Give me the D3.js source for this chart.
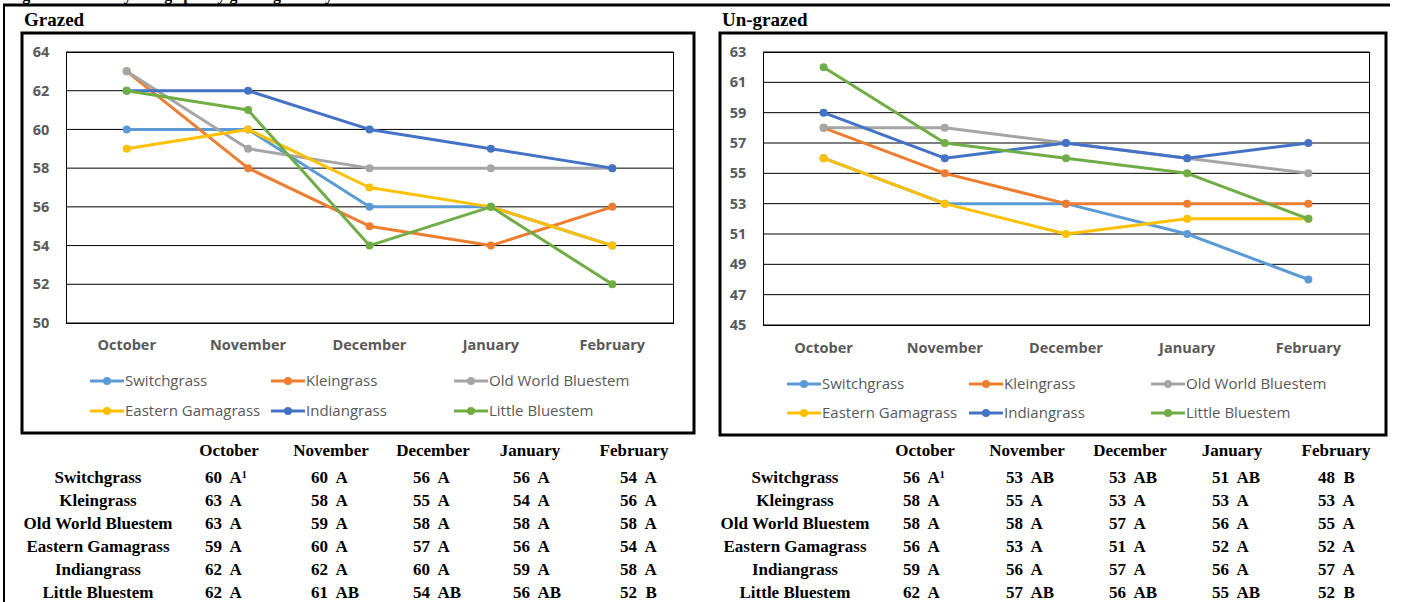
<!DOCTYPE html>
<html>
<head>
<meta charset="utf-8">
<script src="https://cdn.jsdelivr.net/npm/d3@7"></script>
<style>
  body { margin: 0; background: #fff; }
  svg { display: block; }
  .tick-lab { font-family: "Open Sans", sans-serif; font-weight: bold; font-size: 14.5px; fill: #595959; }
  .leg-lab { font-family: "Open Sans", sans-serif; font-size: 15px; fill: #595959; }
  .tbl { font-family: "Liberation Serif", serif; font-weight: bold; font-size: 17px; fill: #000; }
</style>
</head>
<body>
<script>
//months and grass series
var months = ["October", "November", "December", "January", "February"];
var grasses = ["Switchgrass", "Kleingrass", "Old World Bluestem", "Eastern Gamagrass", "Indiangrass", "Little Bluestem"];
var colors = ["#5B9BD5", "#ED7D31", "#A5A5A5", "#FFC000", "#4472C4", "#70AD47"];

//grazed values (rows follow grasses)
var grazed = [
    [60, 60, 56, 56, 54],
    [63, 58, 55, 54, 56],
    [63, 59, 58, 58, 58],
    [59, 60, 57, 56, 54],
    [62, 62, 60, 59, 58],
    [62, 61, 54, 56, 52]
];
var grazedLetters = [
    ["A", "A", "A", "A", "A"],
    ["A", "A", "A", "A", "A"],
    ["A", "A", "A", "A", "A"],
    ["A", "A", "A", "A", "A"],
    ["A", "A", "A", "A", "A"],
    ["A", "AB", "AB", "AB", "B"]
];
var grazedTicks = [50, 52, 54, 56, 58, 60, 62, 64];

//un-grazed values
var ungrazed = [
    [56, 53, 53, 51, 48],
    [58, 55, 53, 53, 53],
    [58, 58, 57, 56, 55],
    [56, 53, 51, 52, 52],
    [59, 56, 57, 56, 57],
    [62, 57, 56, 55, 52]
];
var ungrazedLetters = [
    ["A", "AB", "AB", "AB", "B"],
    ["A", "A", "A", "A", "A"],
    ["A", "A", "A", "A", "A"],
    ["A", "A", "A", "A", "A"],
    ["A", "A", "A", "A", "A"],
    ["A", "AB", "AB", "AB", "B"]
];
var ungrazedTicks = [45, 47, 49, 51, 53, 55, 57, 59, 61, 63];

var width = 1403, height = 602;

var svg = d3.select("body").append("svg")
    .attr("width", width)
    .attr("height", height);

//figure caption, cut off by the top edge as in the source
svg.append("text")
    .attr("x", 8).attr("y", 0)
    .attr("font-family", "Liberation Serif, serif")
    .attr("font-weight", "bold")
    .attr("font-size", 16)
    .text("Figure 3. Monthly forage pH by grazing history");

//outer page border
svg.append("line").attr("x1", 3).attr("x2", 1390).attr("y1", 5).attr("y2", 5)
    .attr("stroke", "#000").attr("stroke-width", 3);
svg.append("line").attr("x1", 4).attr("x2", 4).attr("y1", 5).attr("y2", height)
    .attr("stroke", "#000").attr("stroke-width", 2);

drawPanel({
    title: "Grazed", data: grazed, letters: grazedLetters, ticks: grazedTicks,
    frame: [22, 33, 694, 433], plot: [66, 52, 673, 323],
    xLabY: 345, legY: [381, 411], legX: [90, 271, 454],
    tbl: { labX: 98, head: [229, 331, 433, 530, 634], val: [205, 311, 413, 513, 620] }
});
drawPanel({
    title: "Un-grazed", data: ungrazed, letters: ungrazedLetters, ticks: ungrazedTicks,
    frame: [720, 33, 1386, 435], plot: [763, 52, 1369, 325],
    xLabY: 348, legY: [384, 413], legX: [787, 969, 1151],
    tbl: { labX: 795, head: [925, 1027, 1130, 1232, 1336], val: [903, 1006, 1109, 1212, 1318] }
});

function drawPanel(o){
    var g = svg.append("g");

    //panel title
    g.append("text")
        .attr("x", o.frame[0] + 2).attr("y", 26)
        .attr("font-family", "Liberation Serif, serif")
        .attr("font-weight", "bold")
        .attr("font-size", 19)
        .text(o.title);

    //chart frame
    g.append("rect")
        .attr("x", o.frame[0]).attr("y", o.frame[1])
        .attr("width", o.frame[2] - o.frame[0]).attr("height", o.frame[3] - o.frame[1])
        .attr("fill", "#fff").attr("stroke", "#000").attr("stroke-width", 3);

    var x = d3.scalePoint()
        .domain(months)
        .range([o.plot[0], o.plot[2]])
        .padding(0.5);
    var y = d3.scaleLinear()
        .domain([o.ticks[0], o.ticks[o.ticks.length - 1]])
        .range([o.plot[3], o.plot[1]]);

    //gridlines
    g.selectAll(".grid")
        .data(o.ticks)
        .enter().append("line")
        .attr("x1", o.plot[0]).attr("x2", o.plot[2])
        .attr("y1", function(d){ return y(d); })
        .attr("y2", function(d){ return y(d); })
        .attr("stroke", "#000").attr("stroke-width", 1);

    //plot area box sides
    g.append("rect")
        .attr("x", o.plot[0] + 0.5).attr("y", o.plot[1] + 0.5)
        .attr("width", o.plot[2] - o.plot[0]).attr("height", o.plot[3] - o.plot[1])
        .attr("fill", "none").attr("stroke", "#000").attr("stroke-width", 1);

    //y tick labels
    g.selectAll(".ylab")
        .data(o.ticks)
        .enter().append("text")
        .attr("class", "tick-lab")
        .attr("x", o.plot[0] - 25)
        .attr("y", function(d){ return y(d); })
        .attr("dy", "0.35em")
        .attr("text-anchor", "middle")
        .text(function(d){ return d; });

    //x labels
    g.selectAll(".xlab")
        .data(months)
        .enter().append("text")
        .attr("class", "tick-lab")
        .attr("x", function(d){ return x(d); })
        .attr("y", o.xLabY)
        .attr("dy", "0.35em")
        .attr("text-anchor", "middle")
        .text(function(d){ return d; });

    //series lines and markers
    var line = d3.line()
        .x(function(d, i){ return x(months[i]); })
        .y(function(d){ return y(d); });

    o.data.forEach(function(vals, s){
        g.append("path")
            .datum(vals)
            .attr("d", line)
            .attr("fill", "none")
            .attr("stroke", colors[s])
            .attr("stroke-width", 3)
            .attr("stroke-linejoin", "round")
            .attr("stroke-linecap", "round");
        g.selectAll(".pt" + s)
            .data(vals)
            .enter().append("circle")
            .attr("cx", function(d, i){ return x(months[i]); })
            .attr("cy", function(d){ return y(d); })
            .attr("r", 4)
            .attr("fill", colors[s]);
    });

    //legend, three columns by two rows
    grasses.forEach(function(name, s){
        var lx = o.legX[s % 3], ly = o.legY[Math.floor(s / 3)];
        g.append("line")
            .attr("x1", lx).attr("x2", lx + 34)
            .attr("y1", ly).attr("y2", ly)
            .attr("stroke", colors[s]).attr("stroke-width", 3);
        g.append("circle")
            .attr("cx", lx + 17).attr("cy", ly).attr("r", 4)
            .attr("fill", colors[s]);
        g.append("text")
            .attr("class", "leg-lab")
            .attr("x", lx + 35).attr("y", ly)
            .attr("dy", "0.35em")
            .text(name);
    });

    //table below the chart
    var rowY = d3.scaleLinear().domain([0, 1]).range([477, 500]);
    g.selectAll(".thead")
        .data(months)
        .enter().append("text")
        .attr("class", "tbl")
        .attr("x", function(d, i){ return o.tbl.head[i]; })
        .attr("y", 450)
        .attr("dy", "0.35em")
        .attr("text-anchor", "middle")
        .text(function(d){ return d; });

    grasses.forEach(function(name, r){
        g.append("text")
            .attr("class", "tbl")
            .attr("x", o.tbl.labX).attr("y", rowY(r))
            .attr("dy", "0.35em")
            .attr("text-anchor", "middle")
            .text(name);
        o.data[r].forEach(function(v, c){
            var t = g.append("text")
                .attr("class", "tbl")
                .attr("x", o.tbl.val[c]).attr("y", rowY(r))
                .attr("dy", "0.35em")
                .attr("xml:space", "preserve")
                .text(v + "  " + o.letters[r][c]);
            if (r === 0 && c === 0) {
                t.append("tspan")
                    .attr("dy", "-0.5em")
                    .attr("font-size", 10)
                    .text("1");
            }
        });
    });
}
</script>
</body>
</html>
